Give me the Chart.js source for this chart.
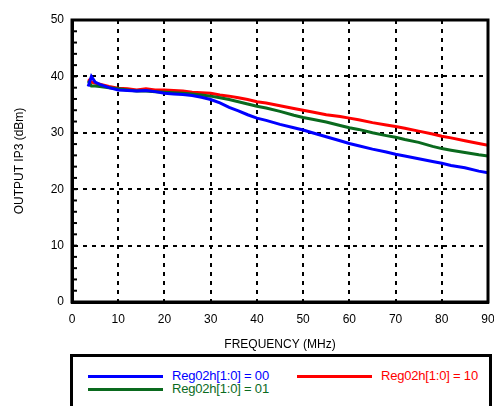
<!DOCTYPE html>
<html>
<head>
<meta charset="utf-8">
<script src="https://cdn.jsdelivr.net/npm/chart.js@4"></script>
<style>
  body { margin: 0; background: #fff; font-family: "Liberation Sans", Arial, sans-serif; }
  #wrap { position: relative; width: 494px; height: 406px; }
  #legendBox {
    position: absolute; left: 70px; top: 354px; width: 422px; height: 60px;
    border: 3px solid #000; box-sizing: border-box; background: #fff;
  }
  .lg { position: absolute; font-size: 13px; line-height: 14px; white-space: nowrap; letter-spacing: -0.2px; }
  .lg span.sw { position: absolute; height: 3px; top: 6px; }
</style>
</head>
<body>
<div id="wrap">
  <canvas id="chartCanvas" width="494" height="406"></canvas>
  <div id="legendBox"></div>
</div>
<script>
// --- Dados ---
const freq = [3.5, 4.2, 5, 6, 8, 10, 12, 14, 16, 18, 20, 22, 24, 26, 28, 30, 32, 34, 36, 38, 40,
  42, 45, 48, 50, 52, 55, 58, 60, 62, 65, 68, 70, 72, 75, 78, 80, 82, 85, 88, 90];

const reg00 = [38.2, 40.0, 39.0, 38.6, 38.0, 37.6, 37.5, 37.4, 37.5, 37.3, 37.0, 36.9, 36.8, 36.6, 36.3, 35.9, 35.3, 34.5, 33.9, 33.2, 32.6,
  32.2, 31.5, 30.9, 30.5, 30.0, 29.3, 28.6, 28.1, 27.7, 27.1, 26.6, 26.2, 25.9, 25.4, 24.9, 24.6, 24.2, 23.8, 23.2, 22.9];

const reg01 = [39.2, 38.3, 38.3, 38.2, 38.0, 37.8, 37.6, 37.4, 37.4, 37.3, 37.2, 37.1, 37.0, 36.9, 36.7, 36.5, 36.2, 35.9, 35.5, 35.1, 34.7,
  34.4, 33.8, 33.1, 32.7, 32.4, 31.9, 31.3, 30.9, 30.6, 30.0, 29.5, 29.2, 28.8, 28.3, 27.6, 27.2, 26.9, 26.5, 26.1, 25.9];

const reg10 = [39.5, 39.0, 38.8, 38.6, 38.2, 37.9, 37.8, 37.6, 37.8, 37.6, 37.6, 37.5, 37.4, 37.2, 37.1, 37.0, 36.7, 36.5, 36.2, 35.9, 35.5,
  35.3, 34.8, 34.3, 34.0, 33.7, 33.2, 32.9, 32.6, 32.3, 31.8, 31.4, 31.1, 30.8, 30.3, 29.8, 29.4, 29.1, 28.6, 28.1, 27.8];

const xTicks = [0, 10, 20, 30, 40, 50, 60, 70, 80, 90];
const yTicks = [0, 10, 20, 30, 40, 50];

const series = [
  { label: "Reg02h[1:0] = 00", valores: reg00, cor: "#0000ff" },
  { label: "Reg02h[1:0] = 01", valores: reg01, cor: "#0a6a1e" },
  { label: "Reg02h[1:0] = 10", valores: reg10, cor: "#ff0000" }
];

// --- Legenda (HTML) ---
const legendPos = [
  { left: 15, top: 12 },
  { left: 15, top: 25 },
  { left: 224, top: 12 }
];
const legendBox = document.getElementById("legendBox");
series.forEach((s, i) => {
  const el = document.createElement("div");
  el.className = "lg";
  el.style.left = legendPos[i].left + "px";
  el.style.top = legendPos[i].top + "px";
  el.style.color = s.cor;
  el.innerHTML = `<span class="sw" style="left:0;width:75px;background:${s.cor}"></span>` +
    `<span style="margin-left:84px">${s.label}</span>`;
  legendBox.appendChild(el);
});

// --- Moldura e ticks menores ---
const framePlugin = {
  id: "frame",
  afterDraw(chart) {
    const { ctx, chartArea: a, scales } = chart;
    ctx.save();
    ctx.strokeStyle = "#000";
    ctx.lineWidth = 2;
    for (let v = 0; v <= 50; v += 2) {
      const y = scales.y.getPixelForValue(v);
      ctx.beginPath();
      ctx.moveTo(a.left, y);
      ctx.lineTo(a.left + 5, y);
      ctx.stroke();
    }
    ctx.lineWidth = 3;
    ctx.strokeRect(a.left, a.top, a.right - a.left, a.bottom - a.top);
    ctx.restore();
  }
};

const gridColor = (ctx) => (ctx.tick && ctx.tick.value % 10 === 0) ? "#000" : "rgba(0,0,0,0)";

new Chart(document.getElementById("chartCanvas"), {
  type: "line",
  data: {
    datasets: series.map(s => ({
      label: s.label,
      data: freq.map((f, i) => ({ x: f, y: s.valores[i] })),
      borderColor: s.cor,
      borderWidth: 3,
      pointRadius: 0,
      tension: 0
    }))
  },
  options: {
    responsive: false,
    animation: false,
    layout: { padding: { left: 0, top: 20, right: 6, bottom: 54 } },
    plugins: { legend: { display: false }, tooltip: { enabled: false } },
    scales: {
      x: {
        type: "linear",
        min: 0, max: 90,
        afterBuildTicks: (scale) => { scale.ticks = xTicks.map(v => ({ value: v })); },
        afterFit: (scale) => { scale.height = 50; scale.paddingLeft = 0; scale.paddingRight = 0; },
        ticks: { color: "#000", font: { family: "Liberation Sans", size: 12 }, padding: 10, maxRotation: 0 },
        grid: { color: gridColor, lineWidth: 2, drawTicks: false },
        border: { display: true, color: "#000", width: 3, dash: [4, 5] },
        title: {
          display: true, text: "FREQUENCY (MHz)", color: "#000",
          font: { family: "Liberation Sans", size: 12 }, padding: { top: 8, bottom: 0 }
        }
      },
      y: {
        min: 0, max: 50,
        afterBuildTicks: (scale) => { scale.ticks = yTicks.map(v => ({ value: v })); },
        afterFit: (scale) => { scale.width = 72; scale.paddingTop = 0; scale.paddingBottom = 0; },
        ticks: { color: "#000", font: { family: "Liberation Sans", size: 12 }, padding: 8 },
        grid: { color: gridColor, lineWidth: 2, drawTicks: false },
        border: { display: true, color: "#000", width: 3, dash: [4, 5] },
        title: {
          display: true, text: "OUTPUT IP3 (dBm)", color: "#000",
          font: { family: "Liberation Sans", size: 12 }, padding: { top: 12, bottom: 0 }
        }
      }
    }
  },
  plugins: [framePlugin]
});
</script>
</body>
</html>
